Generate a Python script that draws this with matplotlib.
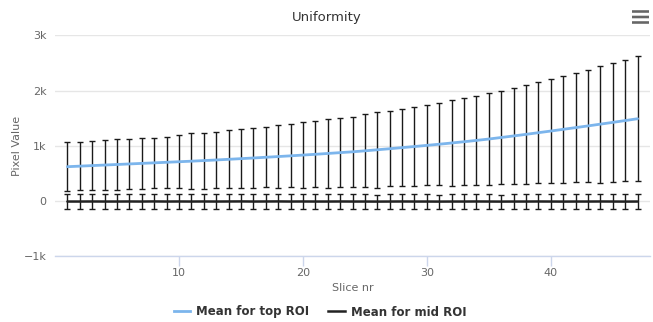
import matplotlib
matplotlib.use("Agg")
import matplotlib.pyplot as plt
from matplotlib.lines import Line2D
from matplotlib.patches import FancyBboxPatch

# Slice numbers
slices = list(range(1, 48))

# Top ROI: mean pixel value and standard deviation per slice
top_mean = [620, 630, 640, 650, 660, 670, 680, 690, 700, 710,
            720, 731, 742, 754, 766, 778, 791, 804, 817, 831,
            845, 860, 875, 890, 908, 927, 946, 966, 986, 1007,
            1028, 1050, 1073, 1097, 1122, 1150, 1178, 1207, 1237, 1267,
            1298, 1329, 1360, 1392, 1424, 1457, 1490]
top_std = [440, 430, 438, 446, 455, 457, 465, 455, 464, 478,
           504, 509, 513, 524, 531, 537, 542, 566, 571, 593,
           597, 619, 622, 637, 662, 685, 684, 701, 711, 726,
           742, 780, 788, 800, 830, 838, 870, 896, 915, 951,
           969, 986, 1022, 1063, 1079, 1101, 1134]

# Mid ROI: mean pixel value and standard deviation per slice
mid_mean = [-12, -12, -11, -12, -12, -11, -12, -10, -12, -11,
            -12, -11, -12, -11, -10, -12, -11, -10, -12, -11,
            -12, -12, -11, -12, -12, -13, -12, -11, -12, -12,
            -13, -12, -12, -11, -12, -13, -12, -12, -11, -12,
            -13, -12, -12, -11, -12, -13, -12]
mid_std = [130, 130, 131, 130, 129, 130, 131, 130, 129, 130,
           131, 130, 129, 130, 131, 130, 129, 130, 131, 130,
           128, 129, 128, 129, 130, 128, 130, 131, 129, 130,
           128, 129, 131, 130, 129, 128, 130, 129, 131, 132,
           130, 129, 132, 130, 128, 129, 130]

y_ticks = [-1000, 0, 1000, 2000, 3000]
y_tick_labels = ["−1k", "0", "1k", "2k", "3k"]
x_ticks = [10, 20, 30, 40]

TOP_COLOR = "#7cb5ec"
MID_COLOR = "#222222"
BAR_COLOR = "#1a1a1a"
TEXT = "#666666"

fig = plt.figure(figsize=(6.53, 3.22), dpi=100)
ax = fig.add_axes([55 / 653, 1 - 256 / 322, (650 - 55) / 653, (256 - 35.5) / 322])

# Error bars (mean ± std)
ax.errorbar(slices, top_mean, yerr=top_std, fmt="none", ecolor=BAR_COLOR,
            elinewidth=1.0, capsize=2.0, capthick=1.0, zorder=2)
ax.errorbar(slices, mid_mean, yerr=mid_std, fmt="none", ecolor=BAR_COLOR,
            elinewidth=1.0, capsize=2.0, capthick=1.0, zorder=2)

# Mean lines
ax.plot(slices, top_mean, color=TOP_COLOR, lw=2, zorder=4,
        solid_capstyle="round")
ax.plot(slices, mid_mean, color=MID_COLOR, lw=1.8, zorder=4,
        solid_capstyle="round")

ax.set_xlim(0, 48)
ax.set_ylim(-1000, 3000)
ax.set_yticks(y_ticks)
ax.set_yticklabels(y_tick_labels)
ax.set_xticks(x_ticks)

ax.grid(axis="y", color="#e6e6e6", lw=1)
ax.set_axisbelow(True)
for side in ("top", "right", "left"):
    ax.spines[side].set_visible(False)
ax.spines["bottom"].set_color("#ccd6eb")
ax.spines["bottom"].set_linewidth(1)

ax.tick_params(axis="y", length=0, labelsize=8, labelcolor=TEXT, pad=6)
ax.tick_params(axis="x", length=7, width=1, color="#ccd6eb",
               labelsize=8, labelcolor=TEXT, pad=2)

ax.set_xlabel("Slice nr", fontsize=8, color=TEXT, labelpad=3)
ax.set_ylabel("Pixel Value", fontsize=8, color=TEXT, labelpad=1)

fig.text(0.5, 1 - 18 / 322, "Uniformity", ha="center", va="center",
         fontsize=9.5, color="#333333")

# Legend
handles = [Line2D([0], [0], color=TOP_COLOR, lw=2),
           Line2D([0], [0], color=MID_COLOR, lw=1.8)]
leg = fig.legend(handles, ["Mean for top ROI", "Mean for mid ROI"],
                 loc="center", bbox_to_anchor=(0.49, 1 - 312 / 322),
                 ncol=2, frameon=False, handlelength=1.4, handletextpad=0.5,
                 columnspacing=1.6, prop={"size": 8.5, "weight": "bold"})
for t in leg.get_texts():
    t.set_color("#333333")

# Menu icon (three bars) in the top-right corner
for i, yy in enumerate([11.5, 17, 22.5]):
    fig.patches.append(FancyBboxPatch(
        (632 / 653, 1 - (yy + 1.3) / 322), 17 / 653, 2.6 / 322,
        boxstyle="round,pad=0", transform=fig.transFigure,
        facecolor="#666666", edgecolor="none"))

fig.savefig("out.png", dpi=100)
